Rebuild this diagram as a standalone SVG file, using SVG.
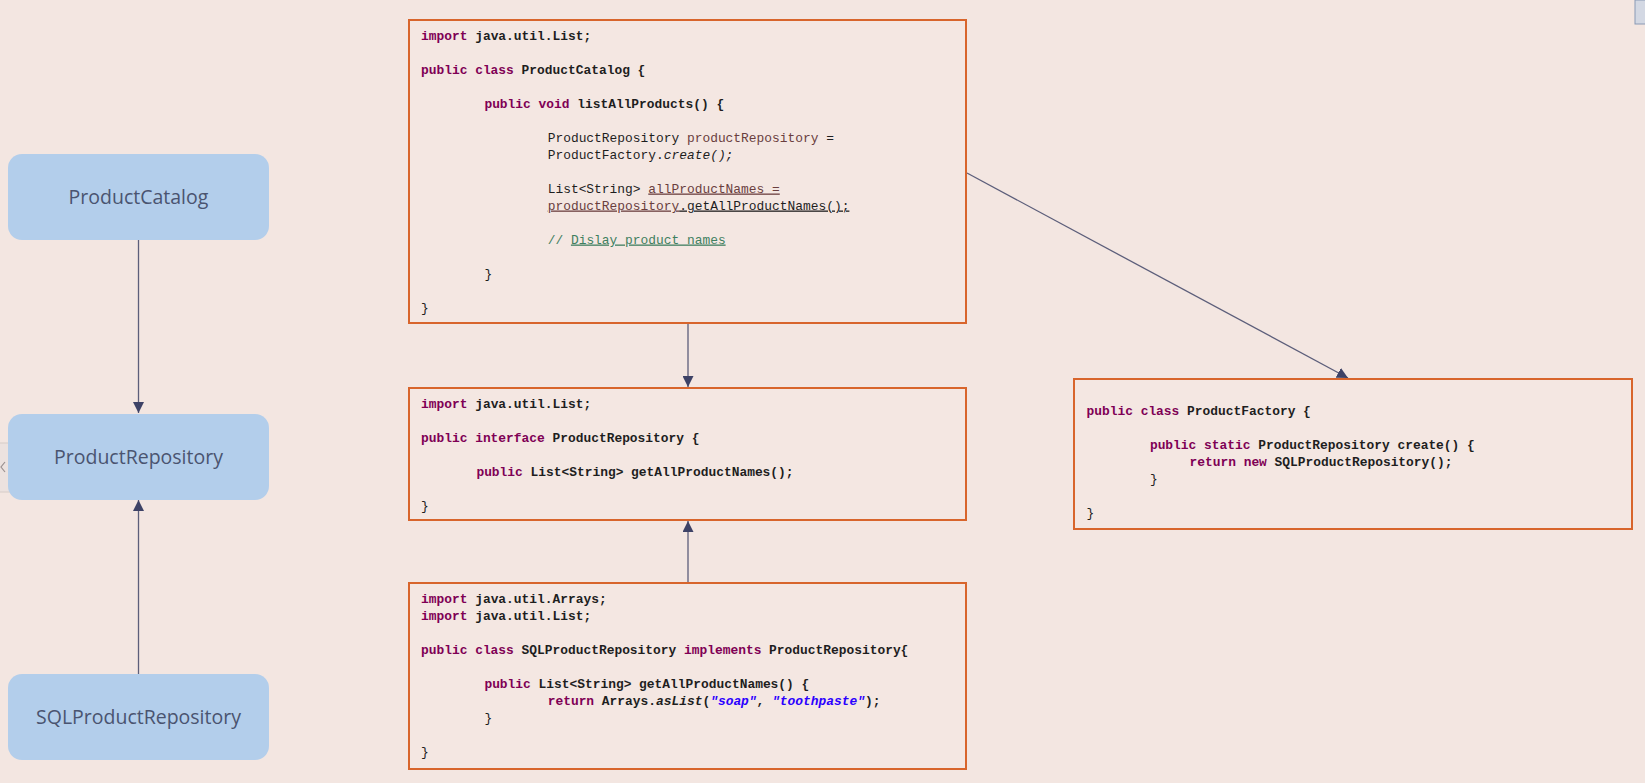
<svg xmlns="http://www.w3.org/2000/svg" width="1645" height="783" viewBox="0 0 1645 783">
<defs>
<style>
.bg{fill:#F3E6E1}
.node{fill:#B3CEEB}
.nlabel{font-family:"Open Sans","Liberation Sans",sans-serif;font-size:19.5px;fill:#4A5470;text-anchor:middle}
.code{fill:#F4E7E2;stroke:#D8652C;stroke-width:2}
.c{font-family:"Liberation Mono","DejaVu Sans Mono",monospace;font-size:12.9px;fill:#1E1E1E;font-weight:bold}
.r{font-weight:normal}
.kw{fill:#7F0055}
.var{fill:#6A3E3E}
.cm{fill:#3F7F5F}
.str{fill:#2A00FF;font-style:italic}
.it{font-style:italic}
.ul{text-decoration:underline}
.conn{stroke:#5C5E7A;stroke-width:1.3;fill:none}
</style>
<marker id="ah" markerUnits="userSpaceOnUse" markerWidth="11" markerHeight="11" refX="10" refY="5" orient="auto" viewBox="0 0 10 10">
<path d="M0,0 L10,5 L0,10 z" fill="#3D4266"/>
</marker>
</defs>
<rect class="bg" x="0" y="0" width="1645" height="783"/>
<g id="ui-artifacts">
<rect x="1635" y="0" width="12" height="24" fill="#D3D8E3" stroke="#8A9AB5" stroke-width="1"/>
<rect x="-1" y="443" width="15" height="49" fill="#ECE2DF" stroke="#D6CCC8" stroke-width="1"/>
<polyline points="5,462 1,467 5,472" fill="none" stroke="#9A9090" stroke-width="1.2"/>
</g>
<g id="connectors">
<line class="conn" x1="138.5" y1="240" x2="138.5" y2="413" marker-end="url(#ah)"/>
<line class="conn" x1="138.5" y1="674" x2="138.5" y2="500" marker-end="url(#ah)"/>
<line class="conn" x1="688" y1="324" x2="688" y2="387" marker-end="url(#ah)"/>
<line class="conn" x1="688" y1="583" x2="688" y2="521" marker-end="url(#ah)"/>
<line class="conn" x1="967" y1="173" x2="1348" y2="378" marker-end="url(#ah)"/>
</g>
<g id="node-ProductCatalog">
<rect class="node" x="8" y="154" width="261" height="86" rx="14"/>
<text class="nlabel" x="138.5" y="204">ProductCatalog</text>
</g>
<g id="node-ProductRepository">
<rect class="node" x="8" y="414" width="261" height="86" rx="14"/>
<text class="nlabel" x="138.5" y="464">ProductRepository</text>
</g>
<g id="node-SQLProductRepository">
<rect class="node" x="8" y="674" width="261" height="86" rx="14"/>
<text class="nlabel" x="138.5" y="724">SQLProductRepository</text>
</g>
<g id="code-ProductCatalog">
<rect class="code" x="409" y="20" width="557" height="303"/>
<text class="c" x="421" y="39.5" xml:space="preserve"><tspan class="kw">import</tspan> java.util.List;</text>
<text class="c" x="421" y="73.5" xml:space="preserve"><tspan class="kw">public class</tspan> ProductCatalog {</text>
<text class="c" x="484.4" y="107.5" xml:space="preserve"><tspan class="kw">public void</tspan> listAllProducts() {</text>
<text class="c r" x="547.7" y="141.5" xml:space="preserve">ProductRepository <tspan class="var">productRepository</tspan> =</text>
<text class="c r" x="547.7" y="158.5" xml:space="preserve">ProductFactory.<tspan class="it">create();</tspan></text>
<text class="c r" x="547.7" y="192.5" xml:space="preserve">List&lt;String&gt; <tspan class="var ul">allProductNames =</tspan></text>
<text class="c r" x="547.7" y="209.5" xml:space="preserve"><tspan class="var ul">productRepository</tspan><tspan class="ul">.getAllProductNames();</tspan></text>
<text class="c r cm" x="547.7" y="243.5" xml:space="preserve">// <tspan class="ul">Dislay product names</tspan></text>
<text class="c r" x="484.4" y="277.5">}</text>
<text class="c r" x="421" y="311.5">}</text>
</g>
<g id="code-ProductRepository">
<rect class="code" x="409" y="388" width="557" height="132"/>
<text class="c" x="421" y="407.5" xml:space="preserve"><tspan class="kw">import</tspan> java.util.List;</text>
<text class="c" x="421" y="441.5" xml:space="preserve"><tspan class="kw">public interface</tspan> ProductRepository {</text>
<text class="c" x="476.4" y="475.5" xml:space="preserve"><tspan class="kw">public</tspan> List&lt;String&gt; getAllProductNames();</text>
<text class="c r" x="421" y="509.5">}</text>
</g>
<g id="code-SQLProductRepository">
<rect class="code" x="409" y="583" width="557" height="186"/>
<text class="c" x="421" y="603" xml:space="preserve"><tspan class="kw">import</tspan> java.util.Arrays;</text>
<text class="c" x="421" y="620" xml:space="preserve"><tspan class="kw">import</tspan> java.util.List;</text>
<text class="c" x="421" y="654" xml:space="preserve"><tspan class="kw">public class</tspan> SQLProductRepository <tspan class="kw">implements</tspan> ProductRepository{</text>
<text class="c" x="484.4" y="688" xml:space="preserve"><tspan class="kw">public</tspan> List&lt;String&gt; getAllProductNames() {</text>
<text class="c" x="547.7" y="705" xml:space="preserve"><tspan class="kw">return</tspan> Arrays.<tspan class="it">asList</tspan>(<tspan class="str">"soap"</tspan>, <tspan class="str">"toothpaste"</tspan>);</text>
<text class="c r" x="484.4" y="722">}</text>
<text class="c r" x="421" y="756">}</text>
</g>
<g id="code-ProductFactory">
<rect class="code" x="1074" y="379" width="558" height="150"/>
<text class="c" x="1086.5" y="415" xml:space="preserve"><tspan class="kw">public class</tspan> ProductFactory {</text>
<text class="c" x="1149.9" y="449" xml:space="preserve"><tspan class="kw">public static</tspan> ProductRepository create() {</text>
<text class="c" x="1189.5" y="466" xml:space="preserve"><tspan class="kw">return new</tspan> SQLProductRepository();</text>
<text class="c r" x="1149.9" y="483">}</text>
<text class="c r" x="1086.5" y="517">}</text>
</g>
</svg>
